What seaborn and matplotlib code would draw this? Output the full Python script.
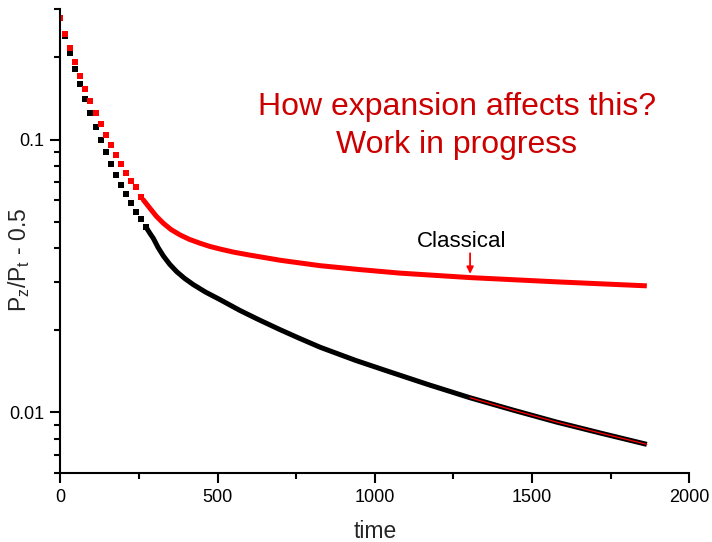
import numpy as np
import pandas as pd
import seaborn as sns
import matplotlib
matplotlib.use("Agg")
import matplotlib.pyplot as plt
from matplotlib.ticker import LogLocator, NullFormatter, FixedLocator, FixedFormatter, MultipleLocator

# ---------------- data ----------------
# sparse early samples (drawn as square markers)
t_sparse = [0, 16, 32, 48, 64, 80, 96, 112, 128, 144, 160, 176, 192, 208, 224, 240, 256]
red_sparse = [0.278, 0.244, 0.216, 0.1916, 0.1708, 0.1535, 0.1384, 0.1255, 0.1137, 0.1039,
              0.0953, 0.0876, 0.0812, 0.0755, 0.0706, 0.0668, 0.0617]
t_black_sparse = [0, 16, 32, 48, 64, 80, 96, 112, 128, 144, 160, 176, 192, 208, 224, 240, 256, 272]
black_sparse = [0.278, 0.239, 0.2079, 0.1817, 0.1596, 0.1407, 0.1251, 0.1112, 0.1000, 0.0899,
                0.0812, 0.0743, 0.0681, 0.0630, 0.0584, 0.0544, 0.0510, 0.0479]

# dense later samples (markers merge into a thick trail)
t_red_dense = [262, 285, 305, 328, 352, 381, 410, 444, 475, 508, 550, 598, 700, 826, 950, 1080,
               1303, 1578, 1865]
red_dense = [0.0605, 0.0560, 0.0524, 0.0493, 0.0468, 0.0447, 0.0431, 0.0417, 0.0406, 0.0397,
             0.0387, 0.0378, 0.0361, 0.0345, 0.0334, 0.0324, 0.0312, 0.0301, 0.0291]
t_black_dense = [272, 284, 296, 311, 328, 348, 370, 395, 423, 462, 508, 571, 630, 699, 760, 826,
                 940, 1048, 1170, 1303, 1440, 1578, 1720, 1865]
black_dense = [0.0479, 0.0455, 0.0434, 0.0402, 0.0374, 0.0349, 0.0328, 0.0310, 0.0294, 0.0276,
               0.0259, 0.02365, 0.0219, 0.0201, 0.0187, 0.01734, 0.0155, 0.01408, 0.01265,
               0.01132, 0.0102, 0.00922, 0.00839, 0.00764]

# thin red overlay on the black curve
t_overlay = [1303, 1440, 1578, 1720, 1865]
overlay = [0.01132, 0.0102, 0.00922, 0.00839, 0.00764]

x_ticks = [0, 500, 1000, 1500, 2000]
x_ticklabels = ["0", "500", "1000", "1500", "2000"]
y_ticks = [0.01, 0.1]
y_ticklabels = ["0.01", "0.1"]

title_lines = "How expansion affects this?\nWork in progress"
arrow_label = "Classical"

# ---------------- figure ----------------
sns.set_style("ticks")
plt.rcParams["font.family"] = ["Liberation Sans", "DejaVu Sans"]
plt.rcParams["mathtext.default"] = "regular"

fig = plt.figure(figsize=(7.12, 5.42), dpi=100)
ax = fig.add_axes([0.0847, 0.1273, 0.8834, 0.8555])

df_bs = pd.DataFrame({"t": t_black_sparse, "v": black_sparse})
df_rs = pd.DataFrame({"t": t_sparse, "v": red_sparse})
df_bd = pd.DataFrame({"t": t_black_dense, "v": black_dense})
df_rd = pd.DataFrame({"t": t_red_dense, "v": red_dense})
df_ov = pd.DataFrame({"t": t_overlay, "v": overlay})

sns.lineplot(data=df_bd, x="t", y="v", color="black", lw=3.6, estimator=None, sort=True,
             ax=ax, solid_capstyle="butt", solid_joinstyle="round")
sns.scatterplot(data=df_bs, x="t", y="v", color="black", marker="s", s=17, linewidth=0, ax=ax)
sns.lineplot(data=df_rd, x="t", y="v", color="#ff0000", lw=3.6, estimator=None, sort=True,
             ax=ax, solid_capstyle="butt", solid_joinstyle="round")
sns.scatterplot(data=df_rs, x="t", y="v", color="#ff0000", marker="s", s=17, linewidth=0, ax=ax)
sns.lineplot(data=df_ov, x="t", y="v", color="#ff0000", lw=0.9, estimator=None, ax=ax)

ax.set_yscale("log")
ax.set_xlim(0, 2000)
ax.set_ylim(0.006, 0.3)

ax.xaxis.set_major_locator(FixedLocator(x_ticks))
ax.xaxis.set_major_formatter(FixedFormatter(x_ticklabels))
ax.xaxis.set_minor_locator(MultipleLocator(250))
ax.yaxis.set_major_locator(FixedLocator(y_ticks))
ax.yaxis.set_major_formatter(FixedFormatter(y_ticklabels))
ax.yaxis.set_minor_locator(LogLocator(base=10, subs=np.arange(2, 10), numticks=20))
ax.yaxis.set_minor_formatter(NullFormatter())

ax.tick_params(which="major", length=7.5, width=1.5, direction="out", labelsize=13,
               color="black", labelcolor="black", pad=4)
ax.tick_params(which="minor", length=4, width=1.5, direction="out", color="black")

for side in ["top", "right"]:
    ax.spines[side].set_visible(False)
for side in ["left", "bottom"]:
    ax.spines[side].set_linewidth(1.5)
    ax.spines[side].set_color("black")

ax.set_xlabel("time", fontsize=16.5, labelpad=10)
ax.set_ylabel("P$_z$/P$_t$ - 0.5", fontsize=16.5)
ax.yaxis.set_label_coords(-0.045, 0.46)

ax.text(0.63, 0.748, title_lines, transform=ax.transAxes, ha="center", va="center",
        fontsize=23, color="#cc0000", linespacing=1.35)

ax.text(1276, 0.0423, arrow_label, ha="center", va="center", fontsize=16, color="black")
ax.annotate("", xy=(1303, 0.0322), xytext=(1303, 0.0383),
            arrowprops=dict(arrowstyle="-|>", color="#ff0000", lw=1.3, mutation_scale=10,
                            shrinkA=0, shrinkB=0))

fig.savefig("out.png", dpi=100)
